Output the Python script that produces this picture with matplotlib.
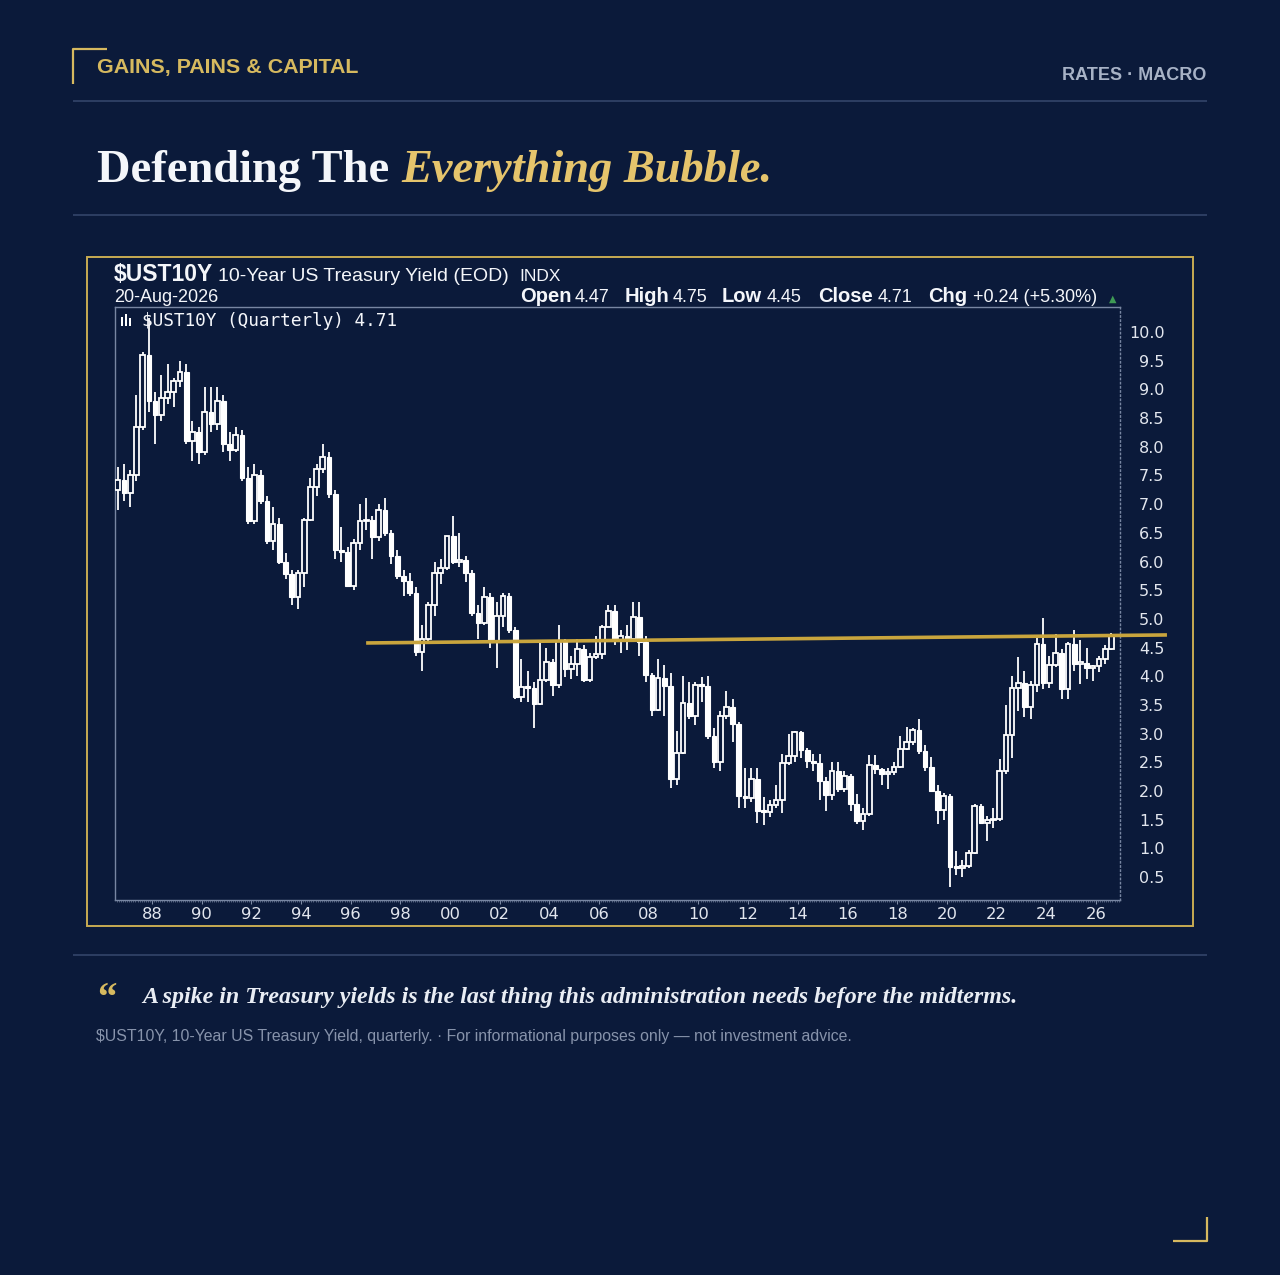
import numpy as np
import matplotlib

matplotlib.use("Agg")
import matplotlib.pyplot as plt
from matplotlib.lines import Line2D
from matplotlib.patches import Rectangle
from matplotlib.ticker import MultipleLocator, FixedLocator

# ---- data: $UST10Y quarterly candles, 1986 Q3 .. 2026 Q3 ----
first_year, first_quarter = 1986, 3

opens = [
    7.25, 7.42,
    7.20, 7.50, 8.35, 9.60,  # 1987
    8.80, 8.55, 8.85, 8.95,  # 1988
    9.15, 9.30, 8.10, 8.25,  # 1989
    7.90, 8.60, 8.40, 8.80,  # 1990
    8.05, 7.95, 8.20, 7.45,  # 1991
    6.70, 7.50, 7.05, 6.35,  # 1992
    6.65, 6.00, 5.78, 5.38,  # 1993
    5.80, 6.72, 7.30, 7.62,  # 1994
    7.82, 7.18, 6.20, 6.17,  # 1995
    5.57, 6.33, 6.70, 6.72,  # 1996
    6.42, 6.90, 6.50, 6.10,  # 1997
    5.74, 5.66, 5.45, 4.42,  # 1998
    4.65, 5.25, 5.80, 5.88,  # 1999
    6.44, 6.00, 6.03, 5.80,  # 2000
    5.11, 4.92, 5.39, 4.60,  # 2001
    5.05, 5.40, 4.80, 3.63,  # 2002
    3.82, 3.80, 3.52, 3.94,  # 2003
    4.25, 3.84, 4.62, 4.12,  # 2004
    4.22, 4.48, 3.94, 4.33,  # 2005
    4.39, 4.85, 5.14, 4.63,  # 2006
    4.70, 4.65, 5.03, 4.59,  # 2007
    4.03, 3.41, 3.97, 3.83,  # 2008
    2.21, 2.67, 3.53, 3.31,  # 2009
    3.85, 3.83, 2.95, 2.51,  # 2010
    3.30, 3.47, 3.16, 1.92,  # 2011
    1.88, 2.21, 1.65, 1.63,  # 2012
    1.76, 1.85, 2.49, 2.61,  # 2013
    3.03, 2.72, 2.53, 2.49,  # 2014
    2.17, 1.93, 2.35, 2.04,  # 2015
    2.27, 1.77, 1.47, 1.60,  # 2016
    2.45, 2.39, 2.30, 2.33,  # 2017
    2.41, 2.74, 2.86, 3.06,  # 2018
    2.69, 2.41, 2.00, 1.67,  # 2019
    1.92, 0.67, 0.66, 0.69,  # 2020
    0.92, 1.74, 1.45, 1.49,  # 2021
    1.51, 2.34, 2.98, 3.80,  # 2022
    3.88, 3.47, 3.84, 4.57,  # 2023
    3.88, 4.20, 4.40, 3.78,  # 2024
    4.57, 4.21, 4.23, 4.15,  # 2025
    4.17, 4.30, 4.47,        # 2026
]
highs = [
    7.65, 7.70,
    7.60, 8.90, 9.65, 10.25,
    8.95, 9.25, 9.45, 9.20,
    9.50, 9.45, 8.45, 8.35,
    9.05, 9.05, 9.05, 8.90,
    8.25, 8.35, 8.30, 7.65,
    7.70, 7.60, 7.15, 6.95,
    6.75, 6.15, 5.85, 5.85,
    6.75, 7.45, 7.70, 8.05,
    7.90, 7.25, 6.60, 6.25,
    6.40, 7.00, 7.10, 6.80,
    7.00, 7.10, 6.55, 6.20,
    5.85, 5.80, 5.55, 4.90,
    5.30, 6.00, 6.05, 6.45,
    6.80, 6.50, 6.10, 5.85,
    5.25, 5.55, 5.45, 5.30,
    5.45, 5.45, 4.85, 4.30,
    4.10, 3.90, 4.60, 4.50,
    4.30, 4.90, 4.65, 4.35,
    4.65, 4.55, 4.40, 4.70,
    4.90, 5.25, 5.25, 4.80,
    4.90, 5.30, 5.30, 4.70,
    4.05, 4.30, 4.20, 4.05,
    3.05, 4.00, 3.90, 3.90,
    3.98, 4.00, 3.10, 3.40,
    3.75, 3.60, 3.20, 2.40,
    2.40, 2.40, 1.90, 1.85,
    2.10, 2.65, 3.00, 3.05,
    3.05, 2.75, 2.65, 2.65,
    2.25, 2.50, 2.50, 2.35,
    2.30, 1.95, 1.70, 2.62,
    2.63, 2.40, 2.40, 2.50,
    2.95, 3.12, 3.10, 3.26,
    2.80, 2.60, 2.10, 1.97,
    1.95, 0.96, 0.80, 0.98,
    1.77, 1.78, 1.56, 1.70,
    2.55, 3.50, 4.00, 4.33,
    4.09, 3.91, 4.69, 5.02,
    4.35, 4.74, 4.48, 4.60,
    4.80, 4.63, 4.50, 4.20,
    4.35, 4.55, 4.75,
]
lows = [
    6.90, 7.05,
    6.95, 7.40, 8.30, 8.60,
    8.05, 8.45, 8.75, 8.70,
    9.05, 8.05, 7.75, 7.70,
    7.85, 8.25, 8.30, 7.90,
    7.75, 7.90, 7.40, 6.65,
    6.65, 7.00, 6.30, 6.20,
    5.95, 5.70, 5.25, 5.18,
    5.55, 6.70, 7.15, 7.55,
    7.10, 6.05, 6.00, 5.55,
    5.50, 6.20, 6.55, 6.05,
    6.35, 6.45, 5.95, 5.70,
    5.40, 5.40, 4.35, 4.10,
    4.60, 5.05, 5.60, 5.85,
    5.95, 5.90, 5.65, 5.05,
    4.65, 4.90, 4.50, 4.15,
    4.85, 4.75, 3.60, 3.55,
    3.55, 3.10, 3.50, 3.90,
    3.65, 3.80, 3.98, 3.95,
    4.00, 3.90, 3.90, 4.30,
    4.30, 4.85, 4.55, 4.40,
    4.45, 4.60, 4.35, 3.90,
    3.30, 3.40, 3.30, 2.05,
    2.10, 2.65, 3.25, 3.15,
    3.55, 2.90, 2.40, 2.35,
    3.25, 2.85, 1.70, 1.70,
    1.80, 1.45, 1.40, 1.55,
    1.70, 1.62, 2.45, 2.50,
    2.58, 2.40, 2.35, 1.85,
    1.65, 1.85, 1.98, 1.98,
    1.65, 1.42, 1.32, 1.57,
    2.30, 2.10, 2.03, 2.28,
    2.40, 2.72, 2.80, 2.65,
    2.35, 1.98, 1.43, 1.50,
    0.32, 0.54, 0.50, 0.66,
    0.90, 1.43, 1.13, 1.35,
    1.48, 2.30, 2.57, 3.40,
    3.29, 3.25, 3.72, 3.78,
    3.80, 4.16, 3.60, 3.60,
    4.10, 3.86, 3.95, 3.92,
    4.08, 4.22, 4.45,
]
closes = [
    7.42, 7.20,
    7.50, 8.35, 9.60, 8.80,
    8.55, 8.85, 8.95, 9.15,
    9.30, 8.10, 8.25, 7.90,
    8.60, 8.40, 8.80, 8.05,
    7.95, 8.20, 7.45, 6.70,
    7.50, 7.05, 6.35, 6.65,
    6.00, 5.78, 5.38, 5.80,
    6.72, 7.30, 7.62, 7.82,
    7.18, 6.20, 6.17, 5.57,
    6.33, 6.70, 6.72, 6.42,
    6.90, 6.50, 6.10, 5.74,
    5.66, 5.45, 4.42, 4.65,
    5.25, 5.80, 5.88, 6.44,
    6.00, 6.03, 5.80, 5.11,
    4.92, 5.39, 4.60, 5.05,
    5.40, 4.80, 3.63, 3.82,
    3.80, 3.52, 3.94, 4.25,
    3.84, 4.62, 4.12, 4.22,
    4.48, 3.94, 4.33, 4.39,
    4.85, 5.14, 4.63, 4.70,
    4.65, 5.03, 4.59, 4.03,
    3.41, 3.97, 3.83, 2.21,
    2.67, 3.53, 3.31, 3.85,
    3.83, 2.95, 2.51, 3.30,
    3.47, 3.16, 1.92, 1.88,
    2.21, 1.65, 1.63, 1.76,
    1.85, 2.49, 2.61, 3.03,
    2.72, 2.53, 2.49, 2.17,
    1.93, 2.35, 2.04, 2.27,
    1.77, 1.47, 1.60, 2.45,
    2.39, 2.30, 2.33, 2.41,
    2.74, 2.86, 3.06, 2.69,
    2.41, 2.00, 1.67, 1.92,
    0.67, 0.66, 0.69, 0.92,
    1.74, 1.45, 1.49, 1.51,
    2.34, 2.98, 3.80, 3.88,
    3.47, 3.84, 4.57, 3.88,
    4.20, 4.40, 3.78, 4.57,
    4.21, 4.23, 4.15, 4.17,
    4.30, 4.47, 4.71,
]

# resistance line drawn on the chart (year, yield)
resistance_x = [1996.62, 2028.86]
resistance_y = [4.58, 4.72]

y_ticks = [0.5, 1.0, 1.5, 2.0, 2.5, 3.0, 3.5, 4.0, 4.5, 5.0,
           5.5, 6.0, 6.5, 7.0, 7.5, 8.0, 8.5, 9.0, 9.5, 10.0]
x_ticks = list(range(1988, 2027, 2))

# ---- styling ----
BG = "#0b1a3a"
GOLD = "#d6b95f"
GOLD_LINE = "#c9a53d"
RULE = "#33456a"
GREY = "#a7b2c6"
WHITE = "#f4f6fa"

W, H = 1280, 1275


def fx(x):
    return x / W


def fy(y):
    return 1 - y / H


fig = plt.figure(figsize=(W / 100, H / 100), dpi=100, facecolor=BG)


def fig_line(xs, ys, color, lw):
    fig.add_artist(Line2D([fx(v) for v in xs], [fy(v) for v in ys],
                          color=color, lw=lw, transform=fig.transFigure,
                          solid_capstyle="butt"))


# corner brackets
fig_line([73, 73, 107], [84, 49, 49], GOLD, 1.6)
fig_line([1173, 1207, 1207], [1241, 1241, 1217], GOLD, 1.6)

# header
fig.text(fx(97), fy(73), "GAINS, PAINS & CAPITAL", color=GOLD, fontsize=15.4,
         fontweight="bold", family="Liberation Sans", va="baseline")
fig.text(fx(1206), fy(80), "RATES \u00b7 MACRO", color=GREY, fontsize=13,
         fontweight="bold", family="Liberation Sans", ha="right", va="baseline")
fig_line([73, 1207], [101, 101], RULE, 1.2)

# title, two parts chained
renderer = fig.canvas.get_renderer()
t1 = fig.text(fx(97), fy(182), "Defending The ", color=WHITE, fontsize=33.4,
              fontweight="bold", family="Liberation Serif", va="baseline")
bb = t1.get_window_extent(renderer)
fig.text(bb.x1 / W, fy(182), "Everything Bubble.", color="#e5c46c",
         fontsize=33.4, fontweight="bold", style="italic",
         family="Liberation Serif", va="baseline")
fig_line([73, 1207], [215, 215], RULE, 1.2)

# chart frame
fig.add_artist(Rectangle((fx(87), fy(926)), fx(1193) - fx(87), fy(257) - fy(926),
                         transform=fig.transFigure, fill=False,
                         edgecolor="#c8ab52", lw=1.4))

# chart header texts
fig.text(fx(114), fy(281), "$UST10Y", color=WHITE, fontsize=16.5,
         fontweight="bold", family="Liberation Sans", va="baseline")
fig.text(fx(218), fy(281), "10-Year US Treasury Yield (EOD)", color=WHITE,
         fontsize=14, family="Liberation Sans", va="baseline")
fig.text(fx(519), fy(281), "INDX", color=WHITE, fontsize=12.5,
         family="Liberation Sans", va="baseline")
fig.text(fx(114), fy(302), "20-Aug-2026", color=WHITE, fontsize=13,
         family="Liberation Sans", va="baseline")

quote_parts = [
    (520, "Open", True), (575, "4.47", False),
    (625, "High", True), (673, "4.75", False),
    (722, "Low", True), (767, "4.45", False),
    (818, "Close", True), (878, "4.71", False),
    (928, "Chg", True), (973, "+0.24 (+5.30%)", False),
]
for xpos, txt, bold in quote_parts:
    fig.text(fx(xpos), fy(302), txt, color=WHITE,
             fontsize=14.5 if bold else 13,
             fontweight="bold" if bold else "normal",
             family="Liberation Sans", va="baseline")
fig.text(fx(1109), fy(302), "\u25b2", color="#3f9a55", fontsize=7,
         family="DejaVu Sans", va="baseline")

# ---- price axes ----
ax = fig.add_axes([fx(115), fy(900), fx(1120) - fx(115), fy(307) - fy(900)])
ax.set_facecolor(BG)

n = len(closes)
t0 = first_year + (first_quarter - 1) * 0.25
centers = t0 + 0.125 + 0.25 * np.arange(n)
o = np.array(opens)
c = np.array(closes)
up = c >= o
bottoms = np.minimum(o, c)
heights = np.maximum(np.abs(c - o), 0.03)

ax.vlines(centers, lows, highs, color="white", lw=1.3, zorder=2)
ax.bar(centers[~up], heights[~up], bottom=bottoms[~up], width=0.19,
       color="white", edgecolor="white", lw=0.8, zorder=3)
ax.bar(centers[up], heights[up], bottom=bottoms[up], width=0.19,
       color=BG, edgecolor="white", lw=1.3, zorder=3)

ax.plot(resistance_x, resistance_y, color=GOLD_LINE, lw=2.6, zorder=5,
        clip_on=False, solid_capstyle="butt")

ax.set_xlim(1986.51, 2026.97)
ax.set_ylim(0.1, 10.436)

ax.yaxis.tick_right()
ax.yaxis.set_major_locator(FixedLocator(y_ticks))
ax.set_yticklabels([f"{v:.1f}" for v in y_ticks])
ax.tick_params(axis="y", length=0, pad=32, labelsize=11.5, labelcolor="#e2e6ee")
for lbl in ax.get_yticklabels():
    lbl.set_horizontalalignment("right")
    lbl.set_family("DejaVu Sans")

ax.xaxis.set_major_locator(FixedLocator(x_ticks))
ax.set_xticklabels([f"{y % 100:02d}" for y in x_ticks])
ax.xaxis.set_minor_locator(MultipleLocator(1 / 12))
ax.tick_params(axis="x", which="major", length=3, width=0.8, color="#7d8aa5",
               pad=2, labelsize=11.8, labelcolor="#e2e6ee")
ax.tick_params(axis="x", which="minor", length=1.5, width=0.6, color="#5f6d8a")
for lbl in ax.get_xticklabels():
    lbl.set_family("DejaVu Sans")

for side in ["left", "top", "bottom"]:
    ax.spines[side].set_color("#7886a2")
    ax.spines[side].set_linewidth(1.0)
ax.spines["right"].set_color("#7886a2")
ax.spines["right"].set_linewidth(1.0)
ax.spines["right"].set_linestyle((0, (1, 2)))

# series legend inside the plot
for dx, hgt in [(0, 9), (4, 12), (8, 8)]:
    fig.add_artist(Rectangle((fx(121 + dx), fy(326)), 2 / W, hgt / H,
                             transform=fig.transFigure, color="white", lw=0))
fig.text(fx(142), fy(326), "$UST10Y (Quarterly) 4.71", color=WHITE,
         fontsize=12.8, family="DejaVu Sans Mono", va="baseline")

# ---- footer ----
fig_line([73, 1207], [955, 955], RULE, 1.2)
fig.text(fx(97), fy(1010), "\u201c", color=GOLD, fontsize=28, fontweight="bold",
         family="Liberation Serif", va="baseline")
fig.text(fx(142), fy(1003),
         "A spike in Treasury yields is the last thing this administration needs before the midterms.",
         color="#e9edf4", fontsize=17.3, fontweight="bold", style="italic",
         family="Liberation Serif", va="baseline")
fig.text(fx(96), fy(1041),
         "$UST10Y, 10-Year US Treasury Yield, quarterly. \u00b7 For informational purposes only \u2014 not investment advice.",
         color="#8793ab", fontsize=11.45, family="Liberation Sans", va="baseline")

fig.savefig("out.png", dpi=100, facecolor=BG)
